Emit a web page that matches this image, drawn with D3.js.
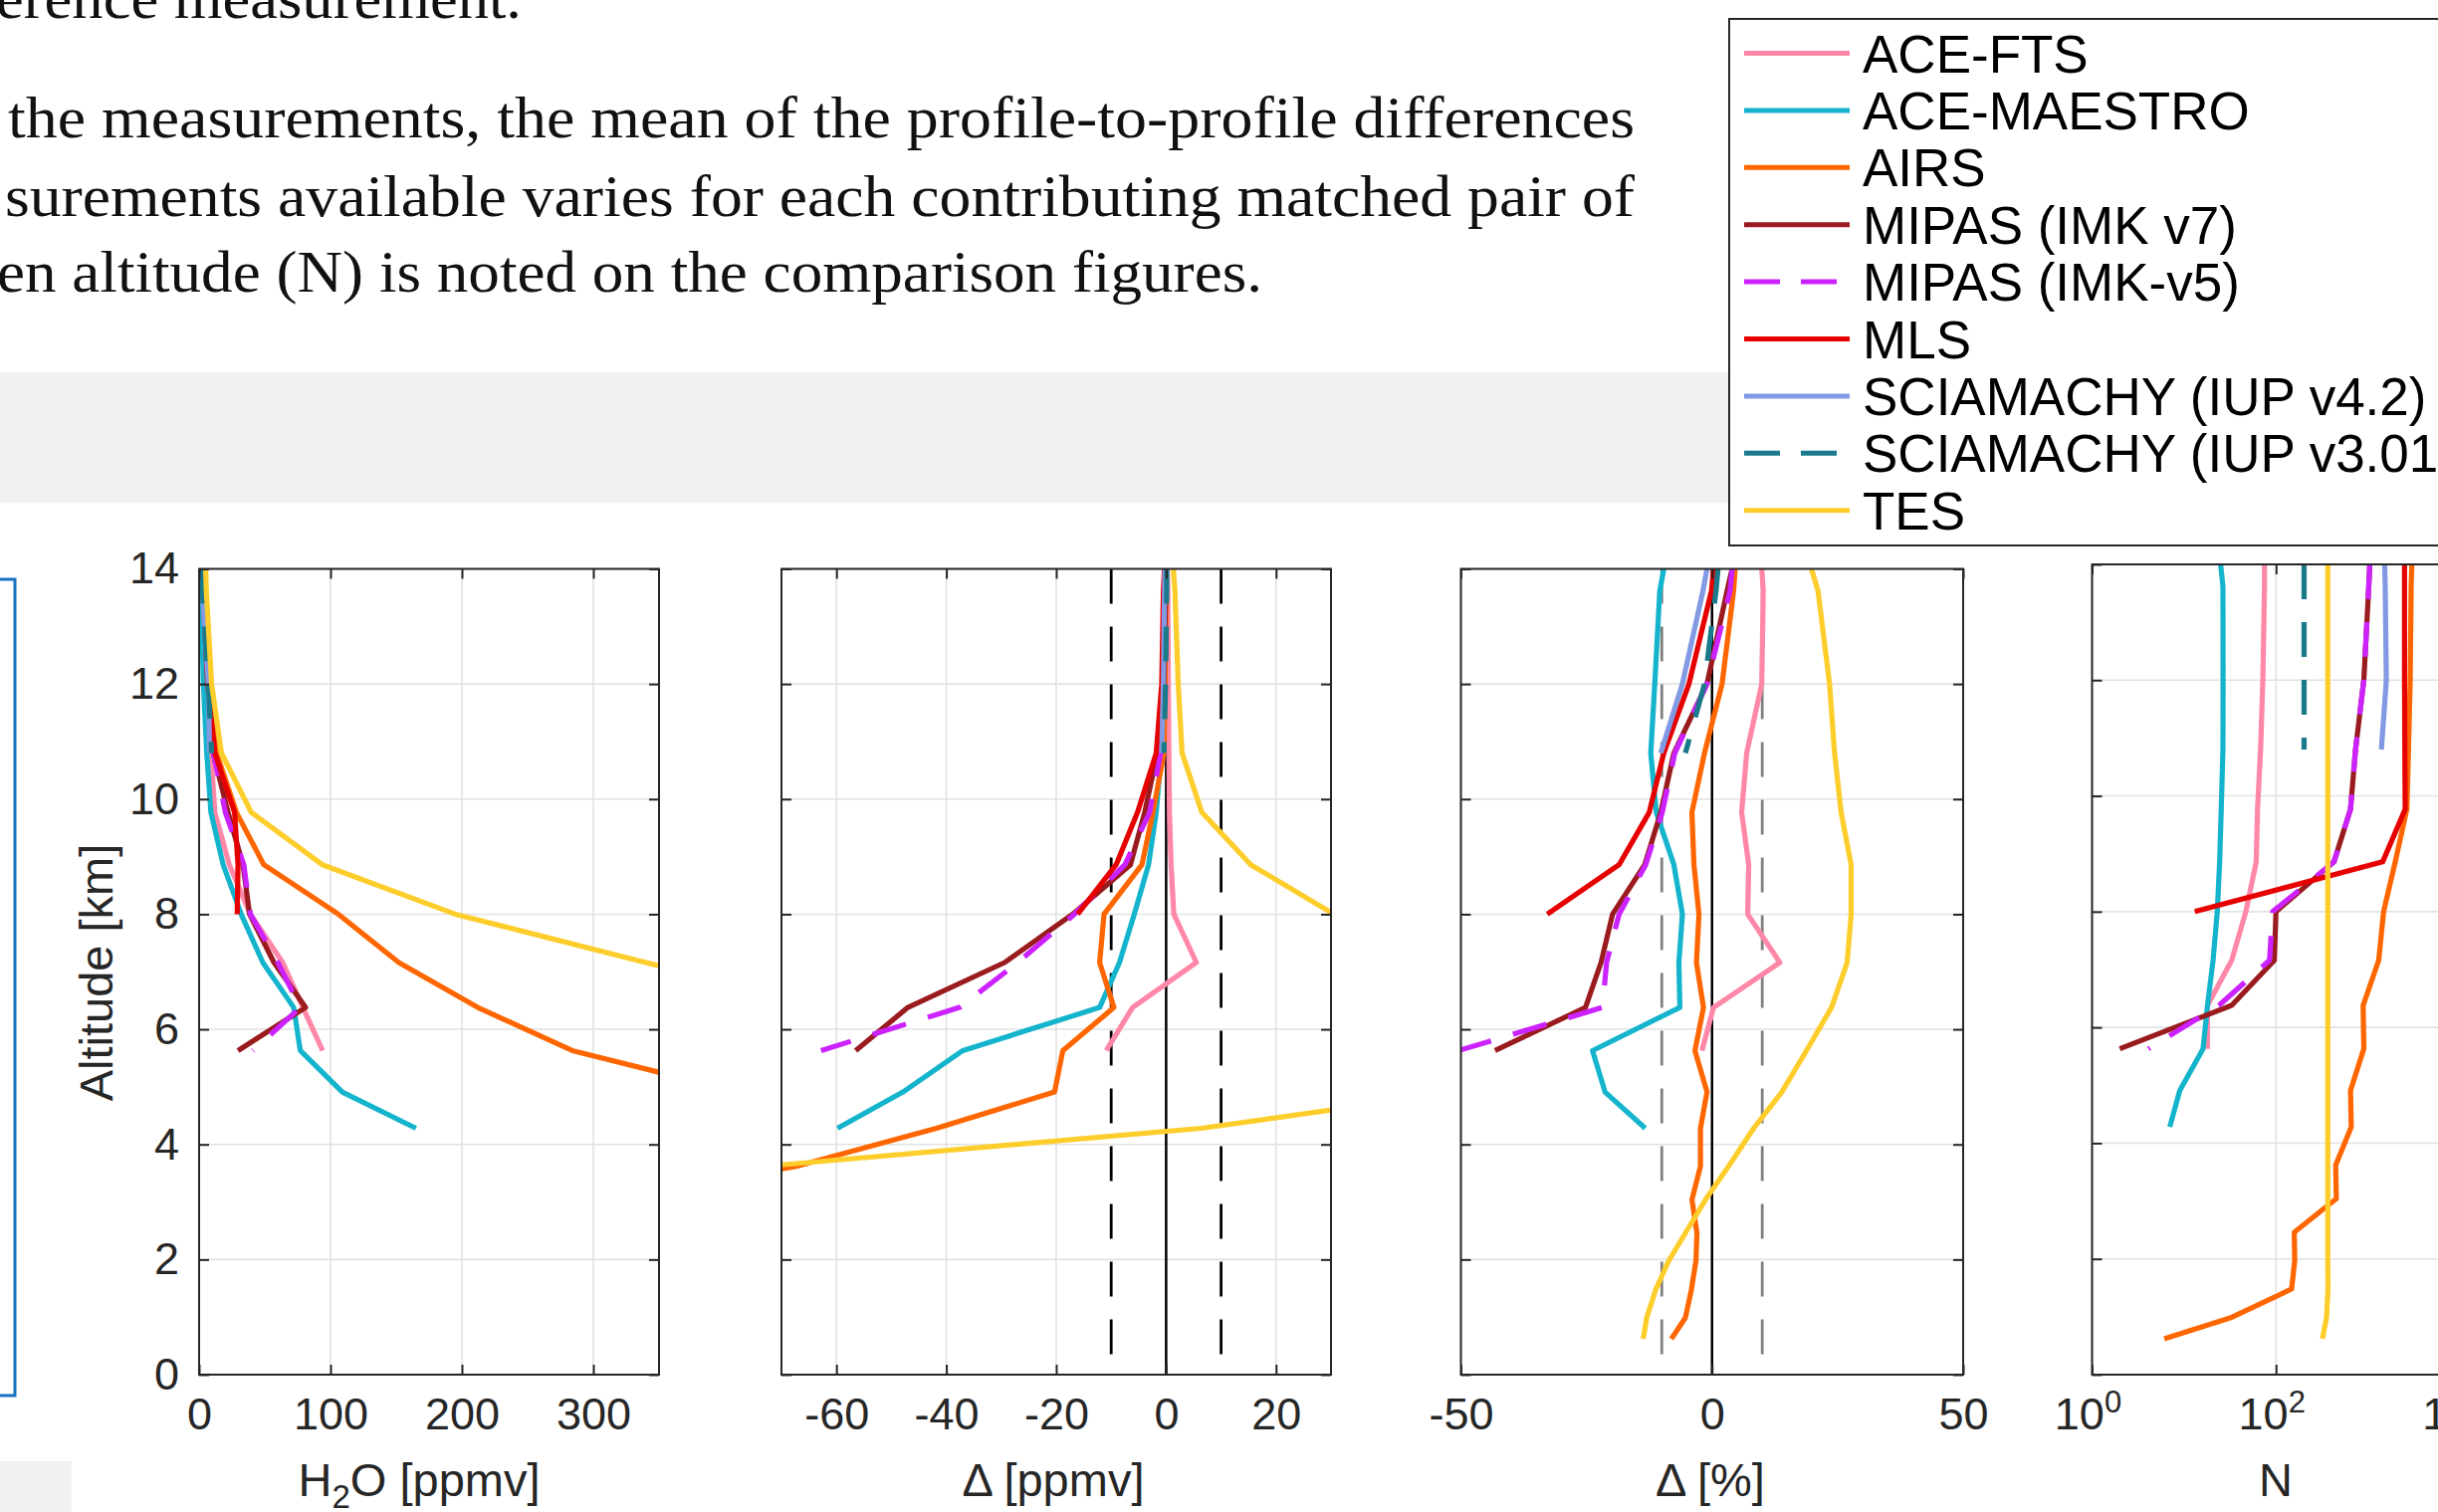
<!DOCTYPE html>
<html>
<head>
<meta charset="utf-8">
<script src="https://cdn.jsdelivr.net/npm/d3@7"></script>
<style>
  body { margin: 0; background: #fff; overflow: hidden; }
  svg { display: block; }
</style>
</head>
<body>
<svg id="fig" width="2449" height="1519"></svg>
<script>
// ---- data ----
// altitude levels [km], top to bottom; every series below is aligned to these
const levels = [14.0, 13.62, 12.0, 10.8, 9.77, 8.86, 8.0, 7.16, 6.38, 5.63, 4.91, 4.28, 3.62, 3.04, 2.46, 1.98, 1.48, 0.99, 0.62];

const seriesNames = ['ACE-FTS', 'ACE-MAESTRO', 'AIRS', 'MIPAS (IMK v7)', 'MIPAS (IMK-v5)',
  'MLS', 'SCIAMACHY (IUP v4.2)', 'SCIAMACHY (IUP v3.01)', 'TES'];

// H2O [ppmv]
const h2oPpmv = [
  [2, 3, 6.5, 9, 12, 23, 39, 63.6, 79, 94],
  [1, 1.5, 3.3, 5.8, 9, 18.3, 32, 48.5, 72, 77, 109, 165],
  [2.5, 3.5, 8.3, 13.3, 28.4, 49.2, 106, 152, 212, 284, 410],
  [2, 3, 7, 10.8, 22, 33.4, 38.4, 57, 81, 29.6],
  [2, 3, 7, 11, 20, 34, 39, 60, 77, 41],
  [2, 3, 6.5, 12, 27, 29.6, 29],
  [1.5, 2.5, 7, 8],
  [1.5, 2.5, 7, 9.5],
  [5, 5.5, 9.5, 17, 39.7, 93.7, 195, 340, 480]
];

// difference [ppmv]
const diffPpmv = [
  [0.2, 0.3, 0.4, 0.5, 0.6, 0.9, 1.4, 5.5, -6.1, -10.9],
  [-0.2, -0.2, -0.3, -0.9, -1.8, -3.2, -5.8, -8.5, -12.1, -37.0, -47.9, -59.8],
  [0, 0, -0.2, -0.4, -2.4, -4.4, -11.3, -12.1, -9.5, -18.8, -20.3, -41.8, -67.3, -100],
  [0, -0.1, -0.4, -1.6, -3.9, -6.5, -17.0, -29.4, -47.0, -56.5],
  [0, -0.1, -0.4, -1.0, -3.0, -7.5, -16.7, -27.0, -37.6, -62.8],
  [-0.3, -0.5, -0.8, -1.8, -5.2, -9.1, -16.1],
  [-0.2, -0.3, -0.5, -0.8],
  [0.1, 0.1, -0.1, -0.4],
  [1.3, 1.6, 2.2, 2.9, 6.5, 15.4, 30.5, 80, 95, 90, 53, 6.4, -73]
];

// difference [%]
const diffPct = [
  [9.9, 10.2, 9.9, 6.9, 5.9, 7.3, 7.1, 13.5, 0.3, -2.0],
  [-9.6, -10.4, -11.4, -12.2, -11.1, -7.6, -5.9, -6.6, -6.4, -23.8, -21.3, -13.3],
  [4.6, 4.3, 2.0, -1.5, -4.0, -3.6, -2.6, -3.1, -1.7, -3.4, -1.0, -2.3, -2.3, -4.0, -3.0, -3.2, -4.1, -5.3, -8.1],
  [4.0, 3.0, -1.0, -7.6, -10.2, -13.4, -19.8, -22.1, -25.2, -43.2],
  [4.0, 3.6, -1.0, -7.4, -9.9, -13.2, -18.5, -21.0, -21.8, -50.5],
  [0.3, -0.1, -4.6, -9.6, -12.5, -18.5, -32.8],
  [-1.0, -1.8, -5.9, -10.2],
  [1.2, 0.8, -1.5, -5.3],
  [19.8, 21.1, 23.4, 24.4, 25.7, 27.7, 27.7, 26.9, 23.8, 18.8, 13.9, 8.3, 3.3, -1.3, -5.3, -8.6, -11.2, -13.0, -13.7]
];

// number of coincidences N
const nMatches = [
  [75, 75, 72, 68, 63, 61, 47, 33, 18, 18],
  [25, 26.5, 26.6, 26.5, 25.4, 24.4, 23, 20.7, 18, 16.1, 9.0, 7.0],
  [3000, 2950, 2880, 2760, 2650, 1980, 1480, 1310, 887, 902, 647, 658, 446, 453, 158, 160, 148, 33, 6.1],
  [1047, 1021, 902, 733, 646, 427, 100, 96, 33, 2.0],
  [1047, 1021, 902, 733, 646, 427, 92, 85, 24, 4.1],
  [2500, 2500, 2500, 2520, 2540, 1445, 13.1],
  [1520, 1540, 1585, 1400],
  [202, 202, 202, 202],
  [366, 366, 366, 366, 366, 366, 366, 366, 366, 366, 366, 366, 366, 366, 366, 366, 368, 355, 320]
];

const altTicks = [0, 2, 4, 6, 8, 10, 12, 14];

const bodyLines = [
  'erence measurement.',
  'the measurements, the mean of the profile-to-profile differences',
  'surements available varies for each contributing matched pair of',
  'en altitude (N) is noted on the comparison figures.'
];

// ---- styles ----
const colors = ['#ff87a8', '#14b4cc', '#ff6600', '#9a1b1e', '#cc22ff', '#e60000', '#8299e3', '#1a7a8c', '#fdcd2b'];
const dashes = [null, null, null, null, '35,23', null, null, '35,23', null];
const sansFont = '"Liberation Sans", Arial, Helvetica, sans-serif';
const serifFont = '"Liberation Serif", "Times New Roman", serif';
const axisColor = '#262626';

const svg = d3.select('#fig');

// ---- page background bits around the figure ----
svg.append('rect').attr('x', 0).attr('y', 374).attr('width', 1737).attr('height', 131).attr('fill', '#f1f1f1');
svg.append('rect').attr('x', 0).attr('y', 1468).attr('width', 72).attr('height', 60).attr('fill', '#f1f1f1');
svg.append('rect').attr('x', -20).attr('y', 582).attr('width', 35).attr('height', 820)
  .attr('fill', 'none').attr('stroke', '#1670bf').attr('stroke-width', 3);

const textRows = [
  { x: -4, y: 18, w: 528 },
  { x: 8, y: 138, w: 1634 },
  { x: 5, y: 217, w: 1637 },
  { x: -3, y: 293, w: 1271 }
];
svg.selectAll('text.body')
  .data(bodyLines)
  .enter()
  .append('text')
  .attr('class', 'body')
  .attr('x', (d, i) => textRows[i].x)
  .attr('y', (d, i) => textRows[i].y)
  .attr('textLength', (d, i) => textRows[i].w)
  .attr('lengthAdjust', 'spacingAndGlyphs')
  .attr('font-family', serifFont)
  .attr('font-size', 60)
  .attr('fill', '#111')
  .text(d => d);

// ---- panels ----
const yBottom = 1381;
const panels = [
  { values: h2oPpmv, x0: 200, x1: 662, yTop: 571.5, log: false, domain: [0, 350], ticks: [0, 100, 200, 300], refs: [] },
  { values: diffPpmv, x0: 785, x1: 1337, yTop: 571.5, log: false, domain: [-70, 30], ticks: [-60, -40, -20, 0, 20],
    refs: [{ v: -10, c: '#000', dash: '35,23', w: 2.8 }, { v: 10, c: '#000', dash: '35,23', w: 2.8 }, { v: 0, c: '#000', dash: null, w: 2.5 }] },
  { values: diffPct, x0: 1467.5, x1: 1972, yTop: 571.5, log: false, domain: [-50, 50], ticks: [-50, 0, 50],
    refs: [{ v: -10, c: '#808080', dash: '35,23', w: 2.8 }, { v: 10, c: '#808080', dash: '35,23', w: 2.8 }, { v: 0, c: '#000', dash: null, w: 2.5 }] },
  { values: nMatches, x0: 2101.5, x1: 2471, yTop: 567, log: true, domain: [1, 1e4], ticks: [1, 100, 1e4], refs: [] }
];

panels.forEach((p, pi) => {
  const x = (p.log ? d3.scaleLog() : d3.scaleLinear()).domain(p.domain).range([p.x0, p.x1]);
  const y = d3.scaleLinear().domain([0, 14]).range([yBottom, p.yTop]);
  const g = svg.append('g');

  g.append('clipPath').attr('id', 'clip' + pi)
    .append('rect').attr('x', p.x0).attr('y', p.yTop).attr('width', p.x1 - p.x0).attr('height', yBottom - p.yTop);

  // grid
  g.append('g').selectAll('line').data(altTicks).enter().append('line')
    .attr('x1', p.x0).attr('x2', p.x1).attr('y1', y).attr('y2', y)
    .attr('stroke', '#e2e2e2').attr('stroke-width', 1.6);
  g.append('g').selectAll('line').data(p.ticks).enter().append('line')
    .attr('x1', x).attr('x2', x).attr('y1', p.yTop).attr('y2', yBottom)
    .attr('stroke', '#e2e2e2').attr('stroke-width', 1.6);

  const plot = g.append('g').attr('clip-path', `url(#clip${pi})`);

  // reference lines
  plot.selectAll('line.ref').data(p.refs).enter().append('line')
    .attr('class', 'ref')
    .attr('x1', d => x(d.v)).attr('x2', d => x(d.v))
    .attr('y1', p.yTop).attr('y2', yBottom)
    .attr('stroke', d => d.c).attr('stroke-width', d => d.w)
    .attr('stroke-dasharray', d => d.dash);

  // profiles
  const line = d3.line()
    .defined(d => d[0] != null)
    .x(d => x(d[0]))
    .y(d => y(d[1]));

  plot.selectAll('path.profile')
    .data(p.values.map(vals => vals.map((v, i) => [v, levels[i]])))
    .enter()
    .append('path')
    .attr('class', 'profile')
    .attr('d', line)
    .attr('fill', 'none')
    .attr('stroke', (d, i) => colors[i])
    .attr('stroke-width', 5.2)
    .attr('stroke-linejoin', 'round')
    .attr('stroke-dasharray', (d, i) => dashes[i]);

  // axes with inward ticks
  const styleAxis = sel => {
    sel.select('.domain').remove();
    sel.selectAll('.tick line').attr('stroke', axisColor).attr('stroke-width', 2);
    sel.selectAll('text').attr('fill', '#262626').attr('font-family', sansFont).attr('font-size', 45);
  };
  const fmt = p.log ? (() => '') : (d => d);
  const bottom = g.append('g').attr('transform', `translate(0,${yBottom})`)
    .call(d3.axisBottom(x).tickValues(p.ticks).tickSize(-10).tickPadding(23).tickFormat(fmt))
    .call(styleAxis);
  g.append('g').attr('transform', `translate(0,${p.yTop})`)
    .call(d3.axisTop(x).tickValues(p.ticks).tickSize(-10).tickFormat(''))
    .call(styleAxis);
  g.append('g').attr('transform', `translate(${p.x0},0)`)
    .call(d3.axisLeft(y).tickValues(altTicks).tickSize(-10).tickPadding(20).tickFormat(pi === 0 ? (d => d) : ''))
    .call(styleAxis);
  g.append('g').attr('transform', `translate(${p.x1},0)`)
    .call(d3.axisRight(y).tickValues(altTicks).tickSize(-10).tickFormat(''))
    .call(styleAxis);

  if (p.log) {
    // 10^k labels with superscripts
    bottom.selectAll('.tick text').each(function (d) {
      const t = d3.select(this);
      t.text('');
      t.append('tspan').text('10');
      t.append('tspan').attr('dy', '-0.55em').attr('font-size', 31).text(Math.round(Math.log10(d)));
    }).attr('dx', '-0.1em');
  }

  // axes box
  g.append('rect').attr('x', p.x0).attr('y', p.yTop)
    .attr('width', p.x1 - p.x0).attr('height', yBottom - p.yTop)
    .attr('fill', 'none').attr('stroke', axisColor).attr('stroke-width', 2);
});

// axis labels
const labelG = svg.append('g').attr('font-family', sansFont).attr('font-size', 47).attr('fill', '#262626');
labelG.append('text').attr('transform', 'translate(113,977) rotate(-90)').attr('text-anchor', 'middle').text('Altitude [km]');
const h2oLabel = labelG.append('text').attr('x', 421).attr('y', 1503).attr('text-anchor', 'middle');
h2oLabel.append('tspan').text('H');
h2oLabel.append('tspan').attr('dy', 12).attr('font-size', 33).text('2');
h2oLabel.append('tspan').attr('dy', -12).text('O [ppmv]');
labelG.append('text').attr('x', 1058).attr('y', 1503).attr('text-anchor', 'middle').text('Δ [ppmv]');
labelG.append('text').attr('x', 1718).attr('y', 1503).attr('text-anchor', 'middle').text('Δ [%]');
labelG.append('text').attr('x', 2286).attr('y', 1503).attr('text-anchor', 'middle').text('N');

// ---- legend ----
const legend = svg.append('g');
legend.append('rect').attr('x', 1737).attr('y', 19).attr('width', 800).attr('height', 529)
  .attr('fill', '#fff').attr('stroke', axisColor).attr('stroke-width', 2);
const rows = legend.selectAll('g.row').data(seriesNames).enter().append('g')
  .attr('class', 'row')
  .attr('transform', (d, i) => `translate(0,${53.5 + i * 57.4})`);
rows.append('line')
  .attr('x1', 1752).attr('x2', 1858).attr('y1', 0).attr('y2', 0)
  .attr('stroke', (d, i) => colors[i]).attr('stroke-width', 5)
  .attr('stroke-dasharray', (d, i) => dashes[i] ? '36,21' : null);
rows.append('text')
  .attr('x', 1871).attr('y', 19)
  .attr('font-family', sansFont).attr('font-size', 53).attr('fill', '#000')
  .text(d => d);
</script>
</body>
</html>
